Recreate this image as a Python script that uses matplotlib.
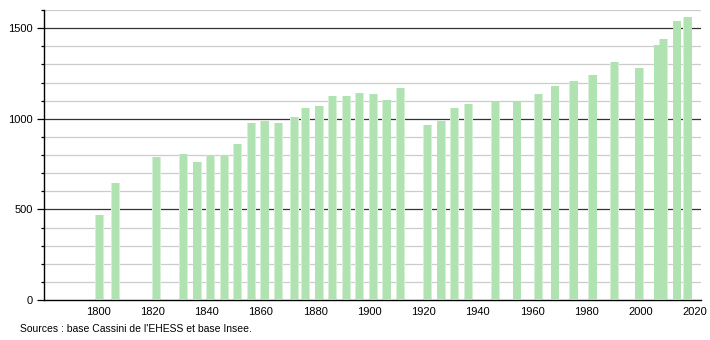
import numpy as np
import matplotlib.pyplot as plt
from matplotlib.ticker import MultipleLocator

plt.rcParams['font.family'] = ['Liberation Sans', 'DejaVu Sans']

# Population data
years = np.array([1800, 1806, 1821, 1831, 1836, 1841, 1846, 1851, 1856, 1861,
                  1866, 1872, 1876, 1881, 1886, 1891, 1896, 1901, 1906, 1911,
                  1921, 1926, 1931, 1936, 1946, 1954, 1962, 1968, 1975, 1982,
                  1990, 1999, 2006, 2008, 2013, 2017])
population = [470, 647, 787, 808, 764, 802, 802, 858, 979, 990,
              979, 1008, 1057, 1068, 1123, 1123, 1140, 1134, 1101, 1168,
              968, 990, 1057, 1079, 1090, 1090, 1134, 1179, 1206, 1240,
              1311, 1278, 1406, 1439, 1538, 1561]
x_ticks = [1800, 1820, 1840, 1860, 1880, 1900, 1920, 1940, 1960, 1980, 2000, 2020]
source_text = "Sources : base Cassini de l'EHESS et base Insee."

fig = plt.figure(figsize=(7.1, 3.4), dpi=100)
ax = fig.add_axes([44/710, 40/340, 657/710, 290/340])

# grid: light every 100, dark every 500
for v in range(100, 1700, 100):
    if v % 500 == 0:
        ax.axhline(v, color='#333333', lw=0.9, zorder=1)
    else:
        ax.axhline(v, color='#cccccc', lw=0.9, zorder=1)

# soft edge + core bar
ax.bar(years - 1.2, population, width=3.3, align='edge', color='#d6f0d6', zorder=2)
ax.bar(years - 0.9, population, width=2.7, align='edge', color='#b0e2b2', zorder=3)

ax.set_xlim(1780, 2022.3)
ax.set_ylim(0, 1600)
ax.set_xticks(x_ticks)
ax.yaxis.set_major_locator(MultipleLocator(500))
ax.yaxis.set_minor_locator(MultipleLocator(100))
ax.tick_params(axis='x', length=0, labelsize=8, pad=5)
ax.tick_params(axis='y', which='major', length=5, width=0.9, labelsize=8, pad=3)
ax.tick_params(axis='y', which='minor', length=2, width=0.9)

for s in ['top', 'right']:
    ax.spines[s].set_visible(False)
for s in ['left', 'bottom']:
    ax.spines[s].set_color('black')
    ax.spines[s].set_linewidth(1.0)

fig.text(20/710, 1 - 329/340, source_text, fontsize=7.5, va='center', ha='left')

fig.savefig('out.png', dpi=100)
